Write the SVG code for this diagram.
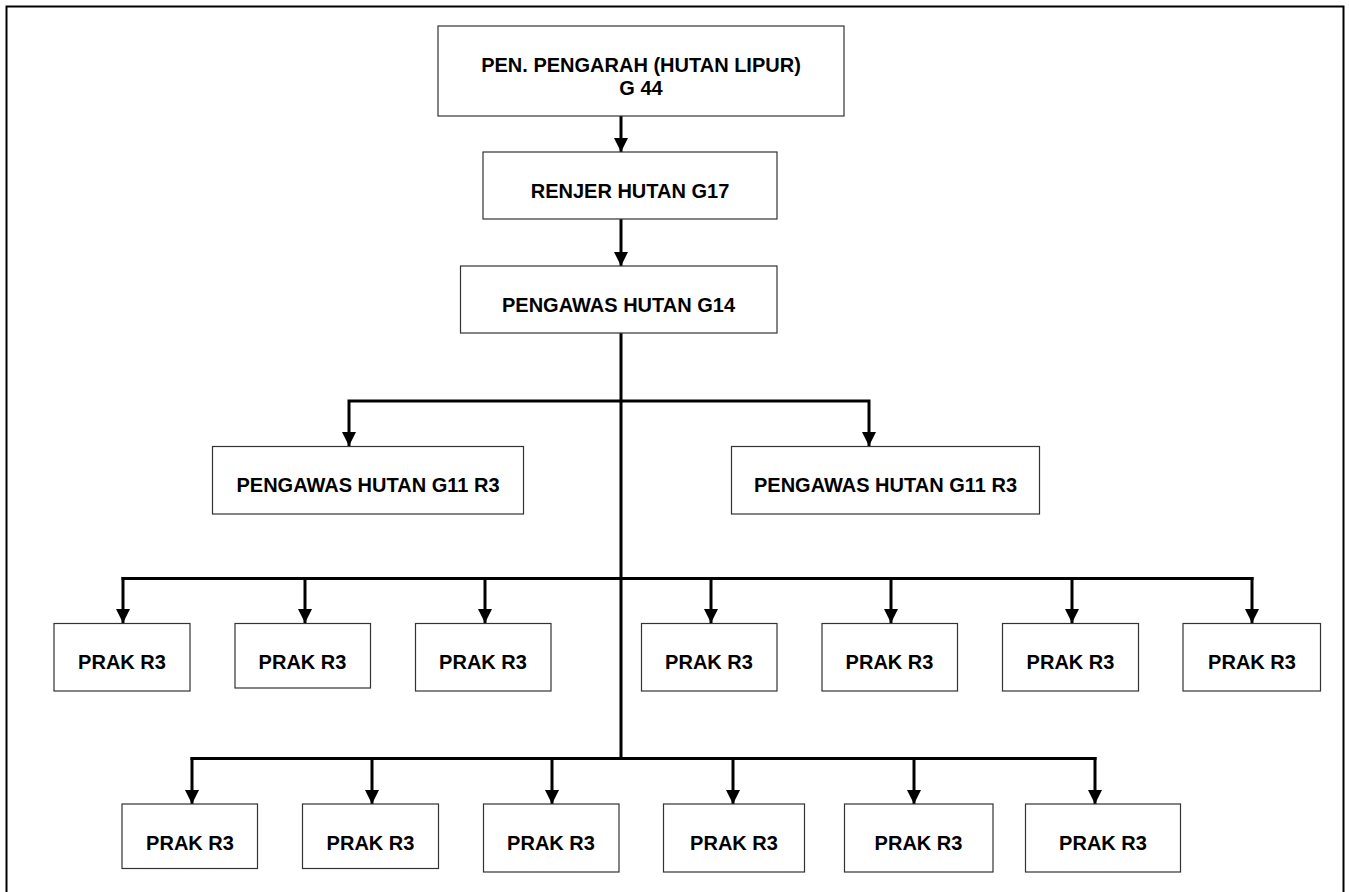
<svg xmlns="http://www.w3.org/2000/svg" width="1349" height="892" viewBox="0 0 1349 892">
<style>
.box{fill:#fff;stroke:#333;stroke-width:1.2}
.t{font-family:"Liberation Sans",Arial,sans-serif;font-weight:bold;font-size:20px;fill:#000;text-anchor:middle}
.c{fill:none;stroke:#000;stroke-width:3}
.frame{fill:none;stroke:#000;stroke-width:2}
</style>
<defs>
<marker id="ah" markerUnits="userSpaceOnUse" markerWidth="16" markerHeight="16" viewBox="0 0 16 16" refX="14" refY="8" orient="auto">
<path d="M0,1 L14,8 L0,15 Z" fill="#000"/>
</marker>
</defs>
<rect width="1349" height="892" fill="#fff"/>
<rect class="frame" x="6.5" y="6.5" width="1337" height="900"/>

<g id="connectors">
<path class="c" d="M621,116 V152" marker-end="url(#ah)"/>
<path class="c" d="M621,219 V266" marker-end="url(#ah)"/>
<path class="c" d="M621,333 V759"/>
<path class="c" d="M621,401 H349 V446" marker-end="url(#ah)" stroke-linejoin="miter"/>
<path class="c" d="M621,401 H869 V446" marker-end="url(#ah)" stroke-linejoin="miter"/>
<path class="c" d="M121.5,578.5 H1253.5"/>
<path class="c" d="M123,577 V623" marker-end="url(#ah)"/>
<path class="c" d="M305,577 V623" marker-end="url(#ah)"/>
<path class="c" d="M485,577 V623" marker-end="url(#ah)"/>
<path class="c" d="M711,577 V623" marker-end="url(#ah)"/>
<path class="c" d="M891,577 V623" marker-end="url(#ah)"/>
<path class="c" d="M1072,577 V623" marker-end="url(#ah)"/>
<path class="c" d="M1252,577 V623" marker-end="url(#ah)"/>
<path class="c" d="M190.5,758.5 H1096.5"/>
<path class="c" d="M192,757 V804" marker-end="url(#ah)"/>
<path class="c" d="M372,757 V804" marker-end="url(#ah)"/>
<path class="c" d="M552,757 V804" marker-end="url(#ah)"/>
<path class="c" d="M733,757 V804" marker-end="url(#ah)"/>
<path class="c" d="M914,757 V804" marker-end="url(#ah)"/>
<path class="c" d="M1095,757 V804" marker-end="url(#ah)"/>
</g>

<g id="n-pengarah">
<rect class="box" x="438" y="26" width="406" height="90"/>
<text class="t" x="641" y="71.5">PEN. PENGARAH (HUTAN LIPUR)</text>
<text class="t" x="641" y="95">G 44</text>
</g>
<g id="n-renjer">
<rect class="box" x="483" y="152" width="294" height="67"/>
<text class="t" x="630" y="197.5">RENJER HUTAN G17</text>
</g>
<g id="n-g14">
<rect class="box" x="460.5" y="266" width="316.5" height="67"/>
<text class="t" x="618.5" y="311.5">PENGAWAS HUTAN G14</text>
</g>
<g id="n-g11a">
<rect class="box" x="212.5" y="446.5" width="311" height="67.5"/>
<text class="t" x="368" y="491.5">PENGAWAS HUTAN G11 R3</text>
</g>
<g id="n-g11b">
<rect class="box" x="731.5" y="446.5" width="308" height="67.5"/>
<text class="t" x="885.5" y="491.5">PENGAWAS HUTAN G11 R3</text>
</g>

<g id="r1-1"><rect class="box" x="54" y="623.5" width="136" height="67.5"/><text class="t" x="122" y="669">PRAK R3</text></g>
<g id="r1-2"><rect class="box" x="235" y="623.5" width="135.5" height="64.5"/><text class="t" x="302.5" y="669">PRAK R3</text></g>
<g id="r1-3"><rect class="box" x="415.5" y="623.5" width="135.5" height="67.5"/><text class="t" x="483" y="669">PRAK R3</text></g>
<g id="r1-4"><rect class="box" x="641.5" y="623.5" width="135.5" height="67.5"/><text class="t" x="709" y="669">PRAK R3</text></g>
<g id="r1-5"><rect class="box" x="822" y="623.5" width="135.5" height="67.5"/><text class="t" x="889.5" y="669">PRAK R3</text></g>
<g id="r1-6"><rect class="box" x="1002.5" y="623.5" width="136" height="67.5"/><text class="t" x="1070.5" y="669">PRAK R3</text></g>
<g id="r1-7"><rect class="box" x="1183" y="623.5" width="137.5" height="67.5"/><text class="t" x="1252" y="669">PRAK R3</text></g>

<g id="r2-1"><rect class="box" x="122" y="804" width="135.5" height="64.5"/><text class="t" x="190" y="850">PRAK R3</text></g>
<g id="r2-2"><rect class="box" x="302.5" y="804" width="136" height="64.5"/><text class="t" x="370.5" y="850">PRAK R3</text></g>
<g id="r2-3"><rect class="box" x="483.5" y="804" width="135.5" height="68"/><text class="t" x="551" y="850">PRAK R3</text></g>
<g id="r2-4"><rect class="box" x="663.5" y="804" width="141" height="68"/><text class="t" x="734" y="850">PRAK R3</text></g>
<g id="r2-5"><rect class="box" x="844.5" y="804" width="148.5" height="68"/><text class="t" x="918.5" y="850">PRAK R3</text></g>
<g id="r2-6"><rect class="box" x="1025.5" y="804" width="155" height="68"/><text class="t" x="1103" y="850">PRAK R3</text></g>
</svg>
